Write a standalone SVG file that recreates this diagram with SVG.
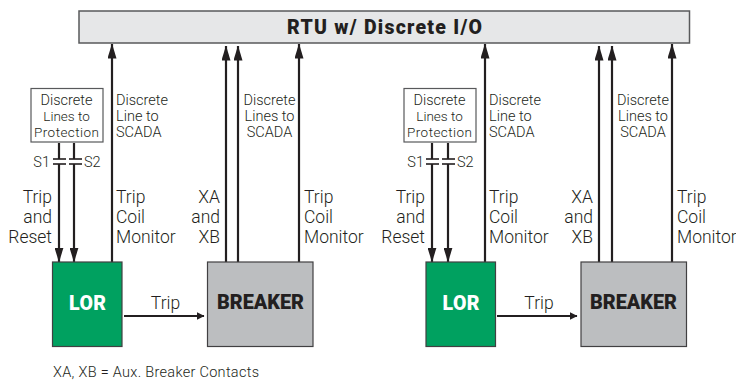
<svg xmlns="http://www.w3.org/2000/svg" width="736" height="381" viewBox="0 0 736 381">
<defs>
<marker id="au" markerUnits="userSpaceOnUse" markerWidth="15" markerHeight="9" refX="14.500" refY="4.500" orient="auto" viewBox="0 0 15 9"><path d="M15 4.500L0 0V9Z" fill="#231f20"/></marker>
<marker id="at" markerUnits="userSpaceOnUse" markerWidth="8" markerHeight="8" refX="7.500" refY="4" orient="auto" viewBox="0 0 8 8"><path d="M8 4L0 0V8Z" fill="#231f20"/></marker>
</defs>
<style>
text{font-family:Roboto,"Liberation Sans",sans-serif;fill:#231f20;font-weight:300}
.l{font-size:17.5px}.s{font-size:14.5px}.n{font-size:13.5px}
.e{text-anchor:end}.m{text-anchor:middle}
.b{font-size:19.5px;font-weight:900}
.c line{stroke:#231f20;stroke-width:2.2px;fill:none}
.c .p{stroke-width:1.6px}
.u{marker-end:url(#au)}
.t{marker-end:url(#at)}
.box{stroke:#414042;stroke-width:1.2px}
</style>
<g id="rtu"><rect x="79" y="11" width="610.500" height="32" fill="#e6e7e8" stroke="#58595b" stroke-width="1.5"/><text x="287" y="34" class="b" textLength="195" lengthAdjust="spacing">RTU w/ Discrete I/O</text></g>
<g id="connectors" class="c">
<line x1="59" y1="143" x2="59" y2="159"/><line x1="59" y1="164" x2="59" y2="262" class="u"/>
<line x1="74" y1="143" x2="74" y2="159"/><line x1="74" y1="164" x2="74" y2="262" class="u"/>
<line class="p" x1="53" y1="159" x2="66" y2="159"/><line class="p" x1="53" y1="164" x2="66" y2="164"/>
<line class="p" x1="69" y1="159" x2="82" y2="159"/><line class="p" x1="69" y1="164" x2="82" y2="164"/>
<line x1="112" y1="262" x2="112" y2="44" class="u"/>
<line x1="226" y1="262" x2="226" y2="46" class="u"/><line x1="238" y1="262" x2="238" y2="46" class="u"/><line x1="299" y1="262" x2="299" y2="44" class="u"/>
<line x1="124" y1="316" x2="204" y2="316" class="t"/>
<line x1="432" y1="143" x2="432" y2="159"/><line x1="432" y1="164" x2="432" y2="262" class="u"/>
<line x1="448" y1="143" x2="448" y2="159"/><line x1="448" y1="164" x2="448" y2="262" class="u"/>
<line class="p" x1="426" y1="159" x2="439" y2="159"/><line class="p" x1="426" y1="164" x2="439" y2="164"/>
<line class="p" x1="442" y1="159" x2="455" y2="159"/><line class="p" x1="442" y1="164" x2="455" y2="164"/>
<line x1="485" y1="262" x2="485" y2="44" class="u"/>
<line x1="599" y1="262" x2="599" y2="46" class="u"/><line x1="612" y1="262" x2="612" y2="46" class="u"/><line x1="672" y1="262" x2="672" y2="44" class="u"/>
<line x1="497" y1="316" x2="577" y2="316" class="t"/>
</g>
<g id="prot1"><rect x="31" y="88.500" width="72" height="53.500" fill="#fff" stroke="#58595b" stroke-width="1.2"/><text x="66.500" y="105" class="s m">Discrete</text><text x="66.500" y="120.500" class="n m">Lines to</text><text x="66.500" y="137" class="n m" textLength="65" lengthAdjust="spacing">Protection</text></g>
<g id="prot2"><rect x="404" y="88.500" width="72" height="53.500" fill="#fff" stroke="#58595b" stroke-width="1.2"/><text x="439.500" y="105" class="s m">Discrete</text><text x="439.500" y="120.500" class="n m">Lines to</text><text x="439.500" y="137" class="n m" textLength="65" lengthAdjust="spacing">Protection</text></g>
<g id="lor1"><rect class="box" x="52.500" y="262" width="69.500" height="84.500" fill="#00a160"/><text x="69" y="310" class="b" textLength="37" style="fill:#fff">LOR</text></g>
<g id="breaker1"><rect class="box" x="207.500" y="262" width="105.500" height="84.500" fill="#bcbec0"/><text x="217" y="308.500" class="b" textLength="87" lengthAdjust="spacingAndGlyphs">BREAKER</text></g>
<g id="lor2"><rect class="box" x="426" y="262" width="69.500" height="84.500" fill="#00a160"/><text x="442.500" y="310" class="b" textLength="37" style="fill:#fff">LOR</text></g>
<g id="breaker2"><rect class="box" x="581" y="262" width="105.500" height="84.500" fill="#bcbec0"/><text x="590" y="308.500" class="b" textLength="87" lengthAdjust="spacingAndGlyphs">BREAKER</text></g>
<g id="labels">
<text x="116" y="105" class="s">Discrete</text><text x="116" y="121" class="s">Line to</text><text x="116" y="137" class="s">SCADA</text>
<text x="269.500" y="105" class="s m">Discrete</text><text x="269.500" y="121" class="s m">Lines to</text><text x="269.500" y="137" class="s m">SCADA</text>
<text x="50" y="167" class="s e">S1</text><text x="84" y="167" class="s">S2</text>
<text x="52" y="203" class="l e">Trip</text><text x="52" y="223" class="l e">and</text><text x="52" y="243" class="l e">Reset</text>
<text x="116" y="203" class="l">Trip</text><text x="116" y="223" class="l">Coil</text><text x="116" y="243" class="l">Monitor</text>
<text x="220" y="203" class="l e">XA</text><text x="220" y="223" class="l e">and</text><text x="220" y="243" class="l e">XB</text>
<text x="304" y="203" class="l">Trip</text><text x="304" y="223" class="l">Coil</text><text x="304" y="243" class="l">Monitor</text>
<text x="165.500" y="309" class="l m">Trip</text>
<text x="489" y="105" class="s">Discrete</text><text x="489" y="121" class="s">Line to</text><text x="489" y="137" class="s">SCADA</text>
<text x="643" y="105" class="s m">Discrete</text><text x="643" y="121" class="s m">Lines to</text><text x="643" y="137" class="s m">SCADA</text>
<text x="424" y="167" class="s e">S1</text><text x="457" y="167" class="s">S2</text>
<text x="425" y="203" class="l e">Trip</text><text x="425" y="223" class="l e">and</text><text x="425" y="243" class="l e">Reset</text>
<text x="489" y="203" class="l">Trip</text><text x="489" y="223" class="l">Coil</text><text x="489" y="243" class="l">Monitor</text>
<text x="593" y="203" class="l e">XA</text><text x="593" y="223" class="l e">and</text><text x="593" y="243" class="l e">XB</text>
<text x="677" y="203" class="l">Trip</text><text x="677" y="223" class="l">Coil</text><text x="677" y="243" class="l">Monitor</text>
<text x="539" y="309" class="l m">Trip</text>
<text x="53" y="376.500" class="s" textLength="206" lengthAdjust="spacing">XA, XB = Aux. Breaker Contacts</text>
</g>
</svg>
